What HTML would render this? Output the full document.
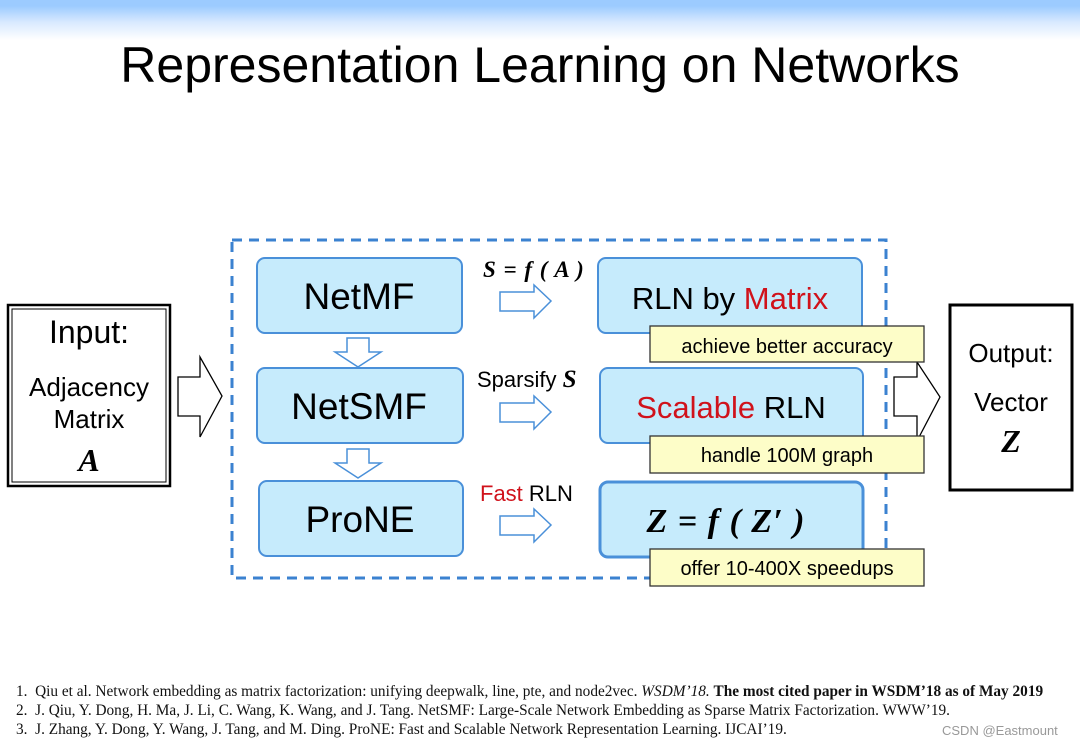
<!DOCTYPE html>
<html><head><meta charset="utf-8"><style>
html,body{margin:0;padding:0;}
body{width:1080px;height:746px;position:relative;overflow:hidden;background:#fff;font-family:"Liberation Sans",sans-serif;}
.top{position:absolute;left:0;top:0;width:1080px;height:40px;background:linear-gradient(#9ccbff 0%,#9ccbff 15%,#d8e9ff 55%,#fff 100%);}
.title{position:absolute;left:0;width:1080px;top:36px;text-align:center;font-size:50px;color:#000;}
.ref{position:absolute;left:16px;font-family:"Liberation Serif",serif;font-size:15.3px;color:#111;white-space:nowrap;}
</style></head><body>
<div class="top"></div>
<div class="title">Representation Learning on Networks</div>
<svg width="1080" height="746" style="position:absolute;left:0;top:0" font-family="Liberation Sans, sans-serif">
<rect x="232" y="240" width="654" height="338" fill="none" stroke="#3b82d0" stroke-width="3" stroke-dasharray="10,7"/>
<rect x="8" y="305" width="162" height="181" fill="#fff" stroke="#000" stroke-width="2.5"/>
<rect x="12" y="309" width="154" height="173" fill="none" stroke="#000" stroke-width="1"/>
<text x="89" y="343" font-size="32" text-anchor="middle">Input:</text>
<text x="89" y="396" font-size="26" text-anchor="middle">Adjacency</text>
<text x="89" y="428" font-size="26" text-anchor="middle">Matrix</text>
<text x="89" y="471" font-size="32" font-weight="bold" font-style="italic" font-family="Liberation Serif, serif" text-anchor="middle">A</text>
<path d="M178,377 H200 V357 L222,396 L200,437 V416 H178 Z" fill="#fff" stroke="#000" stroke-width="1.3"/>
<g fill="#c6ebfc" stroke="#4a90d9" stroke-width="2">
<rect x="257" y="258" width="205" height="75" rx="8"/>
<rect x="257" y="368" width="206" height="75" rx="8"/>
<rect x="259" y="481" width="204" height="75" rx="8"/>
<rect x="598" y="258" width="264" height="75" rx="8"/>
<rect x="600" y="368" width="263" height="75" rx="8"/>
<rect x="600" y="482" width="263" height="75" rx="8" stroke-width="3"/>
</g>
<g font-size="37" text-anchor="middle">
<text x="359" y="309">NetMF</text>
<text x="359" y="419">NetSMF</text>
<text x="360" y="532">ProNE</text>
</g>
<g fill="#fff" stroke="#4a90d9" stroke-width="1.5">
<path d="M347,338 H369 V352 H381 L358,367 L335,352 H347 Z"/>
<path d="M347,449 H369 V463 H381 L358,478 L335,463 H347 Z"/>
<path d="M500,292 H534 V285 L551,301 L534,318 V311 H500 Z"/>
<path d="M500,403 H534 V396 L551,412 L534,429 V422 H500 Z"/>
<path d="M500,516 H534 V509 L551,525 L534,542 V535 H500 Z"/>
</g>
<text x="483" y="277" font-size="23" font-weight="bold" font-style="italic" font-family="Liberation Serif, serif" letter-spacing="1">S = f ( A )</text>
<text x="477" y="387" font-size="22">Sparsify <tspan font-weight="bold" font-style="italic" font-family="Liberation Serif, serif" font-size="25">S</tspan></text>
<text x="480" y="501" font-size="22"><tspan fill="#d0121b">Fast</tspan> RLN</text>
<text x="730" y="309" font-size="31" text-anchor="middle">RLN by <tspan fill="#d0121b">Matrix</tspan></text>
<text x="731" y="418" font-size="31" text-anchor="middle"><tspan fill="#d0121b">Scalable</tspan> RLN</text>
<text x="726" y="532" font-size="34" font-weight="bold" font-style="italic" font-family="Liberation Serif, serif" text-anchor="middle" letter-spacing="1">Z = f ( Z′ )</text>
<path d="M894,377 H917 V362 L940,397 L917,441 V416 H894 Z" fill="#fff" stroke="#000" stroke-width="1.3"/>
<g fill="#fdfdc8" stroke="#333" stroke-width="1.3">
<rect x="650" y="326" width="274" height="36"/>
<rect x="650" y="436" width="274" height="37"/>
<rect x="650" y="549" width="274" height="37"/>
</g>
<g font-size="20" text-anchor="middle">
<text x="787" y="353">achieve better accuracy</text>
<text x="787" y="462">handle 100M graph</text>
<text x="787" y="575">offer 10-400X speedups</text>
</g>
<rect x="950" y="305" width="122" height="185" fill="#fff" stroke="#000" stroke-width="3"/>
<text x="1011" y="362" font-size="26" text-anchor="middle">Output:</text>
<text x="1011" y="411" font-size="26" text-anchor="middle">Vector</text>
<text x="1011" y="452" font-size="32" font-weight="bold" font-style="italic" font-family="Liberation Serif, serif" text-anchor="middle">Z</text>
</svg>
<div class="ref" style="top:683px">1.&nbsp; Qiu et al. Network embedding as matrix factorization: unifying deepwalk, line, pte, and node2vec. <i>WSDM’18.</i> <b>The most cited paper in WSDM’18 as of May 2019</b></div>
<div class="ref" style="top:702px">2.&nbsp; J. Qiu, Y. Dong, H. Ma, J. Li, C. Wang, K. Wang, and J. Tang. NetSMF: Large-Scale Network Embedding as Sparse Matrix Factorization. WWW’19.</div>
<div class="ref" style="top:721px">3.&nbsp; J. Zhang, Y. Dong, Y. Wang, J. Tang, and M. Ding. ProNE: Fast and Scalable Network Representation Learning. IJCAI’19.</div>
<div style="position:absolute;left:942px;top:723px;font-size:13px;color:#999;">CSDN @Eastmount</div>
</body></html>
